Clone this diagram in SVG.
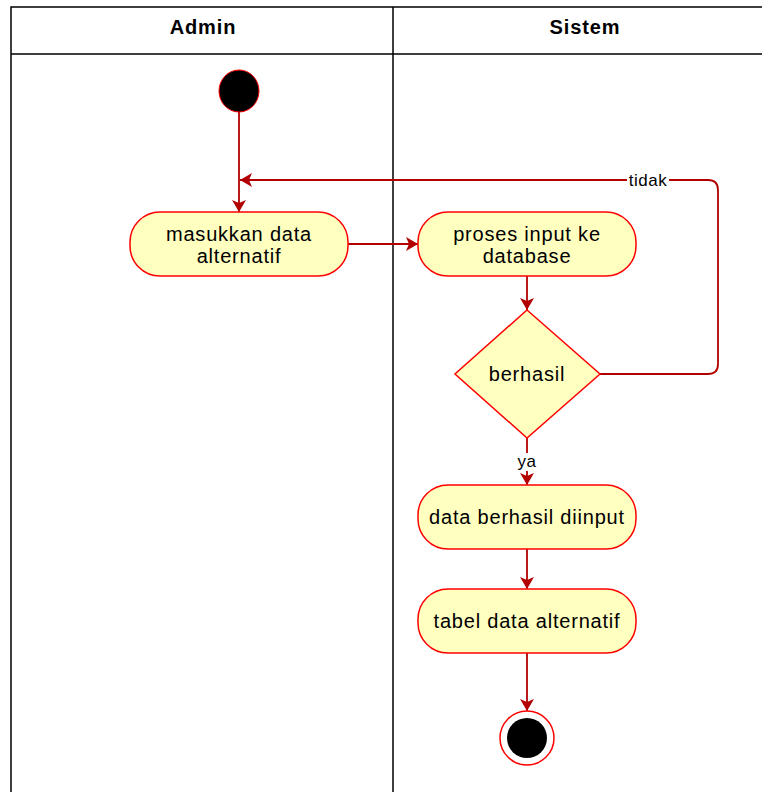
<svg xmlns="http://www.w3.org/2000/svg" width="762" height="792" viewBox="0 0 762 792">
  <style>
    .lane { fill: none; stroke: #000; stroke-width: 1.5; }
    .hdr { font-family: "Liberation Sans", Arial, sans-serif; font-size: 20px; font-weight: bold; letter-spacing: 0.9px; fill: #000; text-anchor: middle; }
    .act { fill: #ffffc0; stroke: #ff0000; stroke-width: 1.5; }
    .lbl { font-family: "Liberation Sans", Arial, sans-serif; font-size: 20px; letter-spacing: 0.8px; fill: #000; text-anchor: middle; }
    .edge { fill: none; stroke: #b20000; stroke-width: 1.8; }
    .elbl { font-family: "Liberation Sans", Arial, sans-serif; font-size: 17px; letter-spacing: 0.5px; fill: #000; text-anchor: middle; }
  </style>
  <defs>
    <marker id="arrow" viewBox="0 0 12 14" refX="12" refY="7" markerWidth="12" markerHeight="14" markerUnits="userSpaceOnUse" orient="auto">
      <path d="M0,0 L12,7 L0,14 L3,7 Z" fill="#b20000"/>
    </marker>
  </defs>
  <rect width="762" height="792" fill="#fff"/>

  <!-- swimlanes -->
  <g id="lanes">
    <path class="lane" d="M11,800 L11,7 L770,7 M11,54 L770,54 M393,7 L393,800"/>
    <text class="hdr" x="203" y="34">Admin</text>
    <text class="hdr" x="585" y="34">Sistem</text>
  </g>

  <!-- connectors -->
  <g id="connectors">
    <path class="edge" d="M239,111 L239,212" marker-end="url(#arrow)"/>
    <path class="edge" d="M348,244 L418,244" marker-end="url(#arrow)"/>
    <path class="edge" d="M527,276 L527,310" marker-end="url(#arrow)"/>
    <path class="edge" d="M600,374 L708,374 Q718,374 718,364 L718,190 Q718,180 708,180 L240,180" marker-end="url(#arrow)"/>
    <path class="edge" d="M527,438 L527,485" marker-end="url(#arrow)"/>
    <path class="edge" d="M527,549 L527,589" marker-end="url(#arrow)"/>
    <path class="edge" d="M527,653 L527,711" marker-end="url(#arrow)"/>
    <rect x="627" y="171" width="42" height="18" fill="#fff"/>
    <text class="elbl" x="648" y="186">tidak</text>
    <rect x="516" y="453" width="22" height="18" fill="#fff"/>
    <text class="elbl" x="527" y="467">ya</text>
  </g>

  <g id="start">
    <ellipse cx="239" cy="91" rx="20" ry="21" fill="#000" stroke="#ff0000" stroke-width="1"/>
  </g>

  <g id="masukkan">
    <rect class="act" x="130" y="212" width="218" height="64" rx="30" ry="30"/>
    <text class="lbl" x="239" y="241">masukkan data</text>
    <text class="lbl" x="239" y="263">alternatif</text>
  </g>

  <g id="proses">
    <rect class="act" x="418" y="212" width="218" height="64" rx="30" ry="30"/>
    <text class="lbl" x="527" y="241">proses input ke</text>
    <text class="lbl" x="527" y="263">database</text>
  </g>

  <g id="berhasil">
    <path class="act" d="M527,310 L600,374 L527,438 L455,374 Z"/>
    <text class="lbl" x="527" y="381">berhasil</text>
  </g>

  <g id="diinput">
    <rect class="act" x="418" y="485" width="218" height="64" rx="30" ry="30"/>
    <text class="lbl" x="527" y="524">data berhasil diinput</text>
  </g>

  <g id="tabel">
    <rect class="act" x="418" y="589" width="218" height="64" rx="30" ry="30"/>
    <text class="lbl" x="527" y="628">tabel data alternatif</text>
  </g>

  <g id="end">
    <circle cx="527" cy="738" r="27" fill="#fff" stroke="#ff0000" stroke-width="1.5"/>
    <circle cx="527" cy="738" r="20" fill="#000"/>
  </g>
</svg>
